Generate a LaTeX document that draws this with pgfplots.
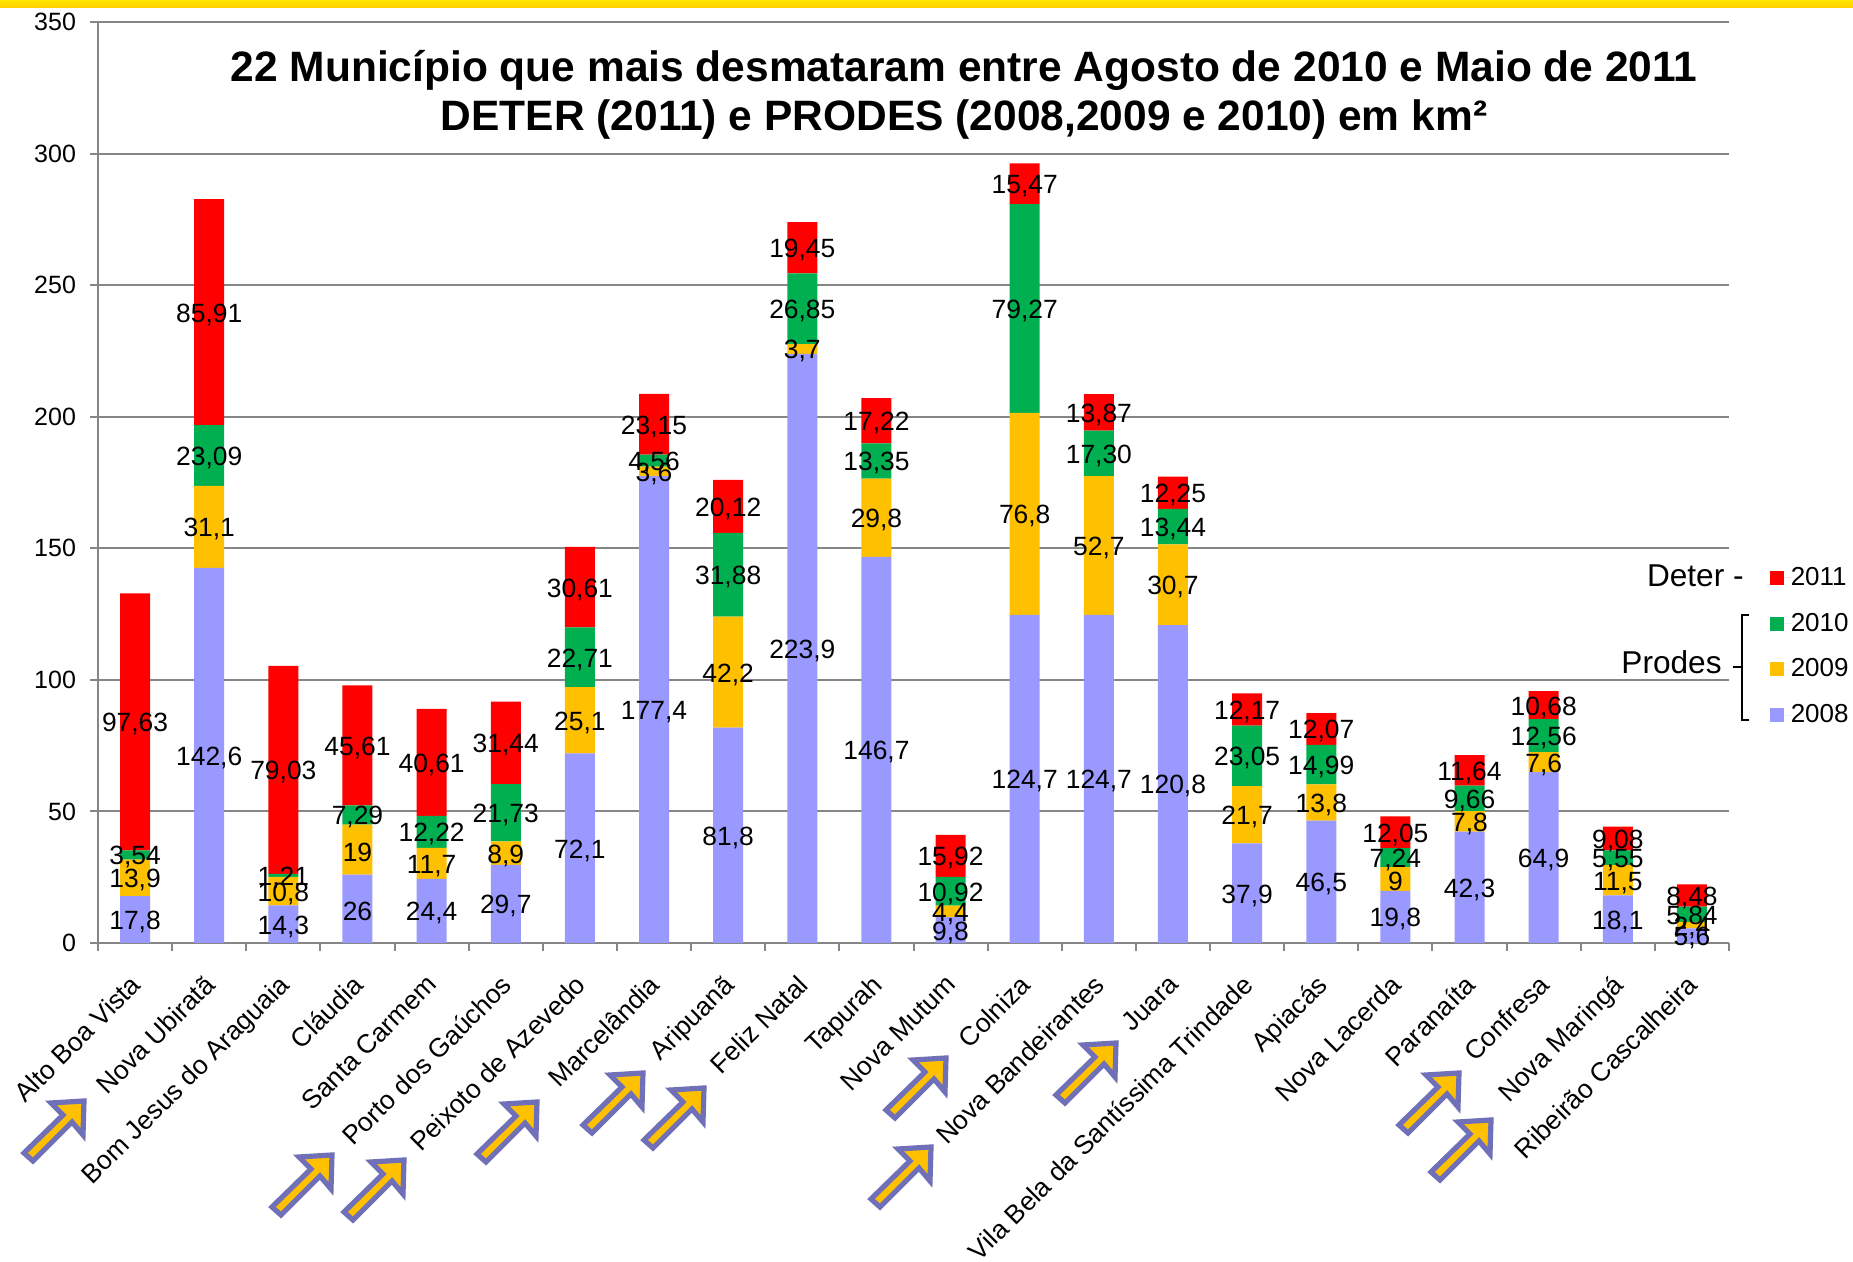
\documentclass[border=0pt]{standalone}
\usepackage{pgfplots}
\usepackage{pgfplotstable}
\usepackage{fontspec}
\setmainfont{Liberation Sans}
\pgfplotsset{compat=1.18}
\definecolor{c8}{HTML}{9999FF}
\definecolor{c9}{HTML}{FFC000}
\definecolor{c10}{HTML}{00B050}
\definecolor{c11}{HTML}{FF0000}
\definecolor{axgray}{HTML}{868686}
\definecolor{arrowedge}{HTML}{7070B8}
\pgfplotstableread{
x a l b m c n d o
0.5 17.8 17,8 13.9 13,9 3.54 3,54 97.63 97,63
1.5 142.6 142,6 31.1 31,1 23.09 23,09 85.91 85,91
2.5 14.3 14,3 10.8 10,8 1.21 1,21 79.03 79,03
3.5 26 26 19 19 7.29 7,29 45.61 45,61
4.5 24.4 24,4 11.7 11,7 12.22 12,22 40.61 40,61
5.5 29.7 29,7 8.9 8,9 21.73 21,73 31.44 31,44
6.5 72.1 72,1 25.1 25,1 22.71 22,71 30.61 30,61
7.5 177.4 177,4 3.6 3,6 4.56 4,56 23.15 23,15
8.5 81.8 81,8 42.2 42,2 31.88 31,88 20.12 20,12
9.5 223.9 223,9 3.7 3,7 26.85 26,85 19.45 19,45
10.5 146.7 146,7 29.8 29,8 13.35 13,35 17.22 17,22
11.5 9.8 9,8 4.4 4,4 10.92 10,92 15.92 15,92
12.5 124.7 124,7 76.8 76,8 79.27 79,27 15.47 15,47
13.5 124.7 124,7 52.7 52,7 17.30 17,30 13.87 13,87
14.5 120.8 120,8 30.7 30,7 13.44 13,44 12.25 12,25
15.5 37.9 37,9 21.7 21,7 23.05 23,05 12.17 12,17
16.5 46.5 46,5 13.8 13,8 14.99 14,99 12.07 12,07
17.5 19.8 19,8 9 9 7.24 7,24 12.05 12,05
18.5 42.3 42,3 7.8 7,8 9.66 9,66 11.64 11,64
19.5 64.9 64,9 7.6 7,6 12.56 12,56 10.68 10,68
20.5 18.1 18,1 11.5 11,5 5.55 5,55 9.08 9,08
21.5 5.6 5,6 2.4 2,4 5.84 5,84 8.48 8,48
}\data
\newcommand{\px}[2]{({#1*0.5pt},{(1262-#2)*0.5pt})}
\newcommand{\bigarrow}[2]{%
  \begin{scope}[shift={({#1*0.5pt},{(1262-#2)*0.5pt})},x=0.5pt,y=-0.5pt]
    \filldraw[fill=c9,draw=arrowedge,line width=2.6pt,miter limit=10]
      (-3,3)--(-36,5)--(-24,17)--(-63,55)--(-54,63)--(-15,24)--(-4,37)--cycle;
  \end{scope}}
\begin{document}
\begin{tikzpicture}
\useasboundingbox (0,0) rectangle (926.5pt,631pt);
\fill[white] (0,0) rectangle (926.5pt,631pt);
\fill[top color=yellow!80!orange,bottom color=c9!80!yellow] (0,627pt) rectangle (926.5pt,631pt);
\begin{axis}[
  at={(49pt,159.5pt)}, anchor=south west,
  scale only axis, width=815.5pt, height=460.5pt,
  ybar stacked, bar width=15pt,
  xmin=0, xmax=22, ymin=0, ymax=350,
  clip=false,
  axis lines=left, axis line style={draw=axgray,line width=1pt,-},
  ytick={0,50,...,350},
  ymajorgrids, grid style={draw=axgray,line width=1pt},
  xtick={0.5,1.5,...,21.5},
  minor xtick={0,1,...,22},
  xticklabels={Alto Boa Vista,Nova Ubiratã,Bom Jesus do Araguaia,Cláudia,Santa Carmem,Porto dos Gaúchos,Peixoto de Azevedo,Marcelândia,Aripuanã,Feliz Natal,Tapurah,Nova Mutum,Colniza,Nova Bandeirantes,Juara,Vila Bela da Santíssima Trindade,Apiacás,Nova Lacerda,Paranaíta,Confresa,Nova Maringá,Ribeirão Cascalheira},
  tick align=outside,
  major tick length=4pt, minor tick length=4pt,
  major x tick style={draw=none},
  minor x tick style={draw=axgray,line width=1pt},
  ytick style={draw=axgray,line width=1pt},
  /pgf/number format/assume math mode=true,
  y tick label style={font=\fontsize{12.5pt}{15pt}\selectfont,xshift=-3.5pt},
  x tick label style={font=\fontsize{13.2pt}{16pt}\selectfont,rotate=45,anchor=north east,inner sep=0pt,yshift=-5.5pt,xshift=-9.9pt},
  title={22 Município que mais desmataram entre Agosto de 2010 e Maio de 2011\\DETER (2011) e PRODES (2008,2009 e 2010) em km²},
  title style={at={(0.531,0.908)},anchor=center,align=center,font=\fontsize{21.25pt}{24.5pt}\selectfont\bfseries},
  reverse legend,
  legend style={at={(1.025,0.408)},anchor=north west,draw=none,fill=none,inner sep=0pt,outer sep=0pt,
    row sep=12.3pt,font=\fontsize{13pt}{15pt}\selectfont,
    nodes={inner sep=0pt,outer sep=0pt}},
  legend cell align=left,
  legend image code/.code={\fill[#1] (0pt,-3.5pt) rectangle (7pt,3.5pt); \path (0pt,0pt) -- (10.5pt,0pt);},
]
\addplot[fill=c8,draw=none] table[x=x,y=a] {\data};
\addlegendentry{2008}
\addplot[fill=c9,draw=none] table[x=x,y=b] {\data};
\addlegendentry{2009}
\addplot[fill=c10,draw=none] table[x=x,y=c] {\data};
\addlegendentry{2010}
\addplot[fill=c11,draw=none] table[x=x,y=d] {\data};
\addlegendentry{2011}
\end{axis}
% value labels, centred on each segment of the stacks above
\begin{axis}[
  at={(49pt,159.5pt)}, anchor=south west,
  scale only axis, width=815.5pt, height=460.5pt,
  xmin=0, xmax=22, ymin=0, ymax=350,
  clip=false, hide axis,
  nodes near coords,
  point meta=explicit symbolic,
  nodes near coords style={anchor=center,inner sep=0pt,text=black,yshift=-1.2pt,font=\fontsize{13.2pt}{15pt}\selectfont},
]
\addplot[only marks,mark=none,draw=none] table[x=x,y expr={\thisrow{a}/2},meta=l] {\data};
\addplot[only marks,mark=none,draw=none] table[x=x,y expr={\thisrow{a}+\thisrow{b}/2},meta=m] {\data};
\addplot[only marks,mark=none,draw=none] table[x=x,y expr={\thisrow{a}+\thisrow{b}+\thisrow{c}/2},meta=n] {\data};
\addplot[only marks,mark=none,draw=none] table[x=x,y expr={\thisrow{a}+\thisrow{b}+\thisrow{c}+\thisrow{d}/2},meta=o] {\data};
\end{axis}
\node[anchor=east,inner sep=0pt,font=\fontsize{15.8pt}{18pt}\selectfont] at \px{1744}{576} {Deter -};
\node[anchor=east,inner sep=0pt,font=\fontsize{15.8pt}{18pt}\selectfont] at \px{1722}{662} {Prodes};
\draw[black,line width=0.9pt] \px{1749}{615} -- \px{1742}{615} -- \px{1742}{720} -- \px{1749}{720};
\draw[black,line width=0.9pt] \px{1733}{667} -- \px{1742}{667};
\bigarrow{87}{1098}
\bigarrow{335}{1152}
\bigarrow{407}{1157}
\bigarrow{540}{1099}
\bigarrow{646}{1070}
\bigarrow{707}{1085}
\bigarrow{949}{1055}
\bigarrow{934}{1144}
\bigarrow{1119}{1040}
\bigarrow{1462}{1070}
\bigarrow{1494}{1117}
\end{tikzpicture}
\end{document}
